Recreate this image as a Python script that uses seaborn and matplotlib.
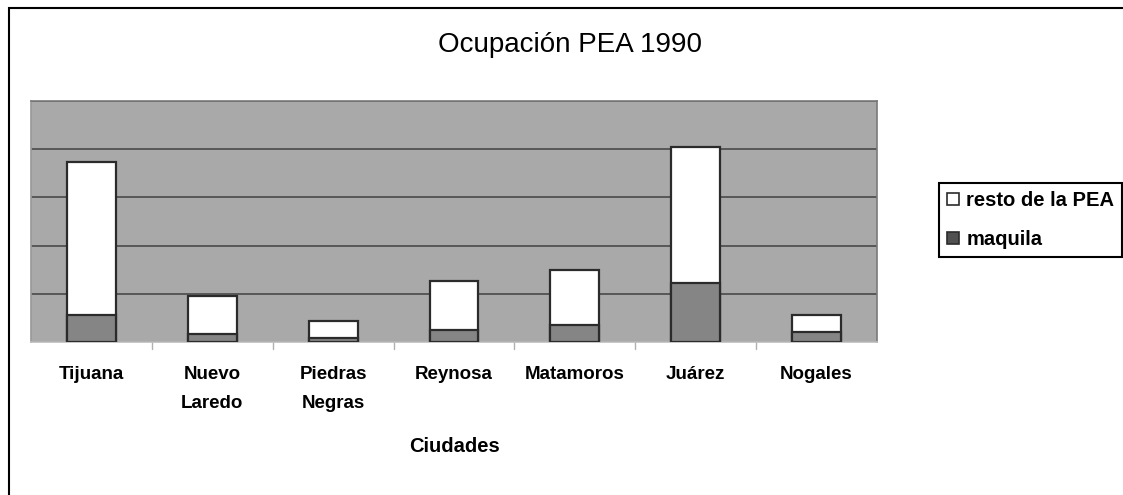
import matplotlib
matplotlib.use("Agg")
import matplotlib.pyplot as plt
import seaborn as sns
import pandas as pd
from matplotlib.patches import Rectangle, Patch

ciudades = ["Tijuana", "Nuevo\nLaredo", "Piedras\nNegras", "Reynosa", "Matamoros", "Juárez", "Nogales"]
maquila = [57000, 16500, 8000, 25000, 35000, 123000, 20000]
resto_pea = [316000, 79000, 36000, 101000, 115000, 282000, 35000]

df = pd.DataFrame({"ciudad": ciudades, "maquila": maquila, "resto": resto_pea})
df["total"] = df["maquila"] + df["resto"]

sns.set_theme(style="white")
plt.rcParams["font.family"] = ["Liberation Sans", "DejaVu Sans"]
plt.rcParams["text.color"] = "black"
plt.rcParams["xtick.color"] = "black"
plt.rcParams["axes.labelcolor"] = "black"

fig = plt.figure(figsize=(11.23, 4.95), dpi=100)
ax = fig.add_axes([31 / 1123, 1 - 342 / 495, (877 - 31) / 1123, (342 - 101) / 495])
ax.set_facecolor("#a9a9a9")

bw = 0.405
sns.barplot(data=df, x="ciudad", y="total", color="white", edgecolor="#2b2b2b",
            linewidth=1.6, width=bw, saturation=1, ax=ax, zorder=3)
sns.barplot(data=df, x="ciudad", y="maquila", color="#858585", edgecolor="#2b2b2b",
            linewidth=1.6, width=bw, saturation=1, ax=ax, zorder=4)

ax.set_xlim(-0.5, len(ciudades) - 0.5)
ax.set_ylim(0, 500000)
ax.set_yticks(range(0, 500001, 100000))
ax.yaxis.grid(True, color="#4a4a4a", linewidth=1.2, zorder=1)
ax.set_axisbelow(True)
ax.tick_params(axis="y", left=False, labelleft=False)
ax.set_ylabel("")

ax.set_xticks(range(len(ciudades)))
ax.set_xticklabels(ciudades, fontsize=13.5, fontweight="bold", linespacing=1.95)
ax.tick_params(axis="x", length=0, pad=17, labelcolor="black")
for b in [i + 0.5 for i in range(len(ciudades) - 1)]:
    ax.plot([b, b], [0, -0.03], transform=ax.get_xaxis_transform(), color="#b0b0b0",
            linewidth=1, clip_on=False)
ax.set_xlabel("Ciudades", fontsize=14.5, fontweight="bold", labelpad=18, color="black")

for side in ["top", "right"]:
    ax.spines[side].set_color("#7a7a7a")
    ax.spines[side].set_linewidth(1.2)
ax.spines["left"].set_color("#9a9a9a")
ax.spines["bottom"].set_color("#c0c0c0")

fig.text(570 / 1123, 1 - 45 / 495, "Ocupación PEA 1990", ha="center", va="center",
         fontsize=20, color="black")

handles = [Patch(facecolor="white", edgecolor="#2b2b2b", linewidth=1.2),
           Patch(facecolor="#505050", edgecolor="#2b2b2b", linewidth=1.2)]
leg = fig.legend(handles, ["resto de la PEA", "maquila"], loc="upper left",
                 bbox_to_anchor=(939 / 1123, 1 - 183 / 495), fancybox=False,
                 edgecolor="black", framealpha=1, prop={"weight": "bold", "size": 14.5},
                 handlelength=0.6, handleheight=0.6, handletextpad=0.35,
                 borderpad=0.4, labelspacing=1.0, borderaxespad=0)
leg.get_frame().set_linewidth(1.5)

fig.patches.append(Rectangle((9 / 1123, -0.1), 1.2, 1.1 - 8 / 495, transform=fig.transFigure,
                             fill=False, edgecolor="black", linewidth=1.5))

fig.savefig("out.png", dpi=100)
